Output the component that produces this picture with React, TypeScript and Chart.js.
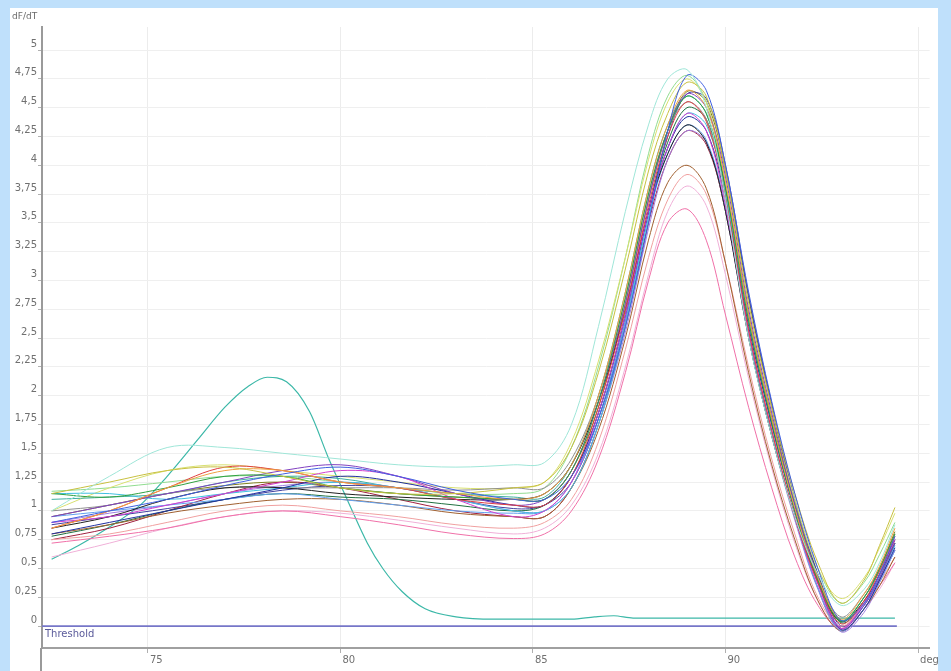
import React, { useEffect, useRef } from 'react';
import { Chart, registerables } from 'chart.js';
Chart.register(...registerables);

// x positions (deg)
const FLAT_X = [72.5, 74, 75.5, 77, 78.5, 80, 81.5, 83, 84.5];
const PEAK_X = [85.3, 86, 86.7, 87.4, 88, 88.5, 89, 89.5, 90, 90.6, 91.2, 91.8, 92.4, 93, 93.6, 94, 94.4];
const CURVE_X = [...FLAT_X, ...PEAK_X];

// dF/dT curves (9 flat-region values + 17 peak-region values)
const C01 = [1.0, 1.3, 1.55, 1.55, 1.5, 1.45, 1.4, 1.38, 1.4, 1.42, 1.75, 2.6, 3.6, 4.35, 4.75, 4.83, 4.5, 3.7, 2.5, 1.65, 0.95, 0.45, 0.18, 0.32, 0.55, 0.88];
const C02 = [0.9, 1.0, 1.1, 1.22, 1.32, 1.38, 1.3, 1.18, 1.1, 1.1, 1.3, 1.8, 2.6, 3.5, 4.3, 4.78, 4.65, 4.0, 2.9, 1.95, 1.15, 0.5, 0.05, 0.2, 0.45, 0.78];
const C03 = [1.15, 1.25, 1.35, 1.38, 1.3, 1.2, 1.15, 1.15, 1.2, 1.25, 1.55, 2.2, 3.1, 3.95, 4.45, 4.72, 4.6, 3.95, 2.8, 1.9, 1.15, 0.55, 0.2, 0.4, 0.7, 1.03];
const C04 = [0.85, 1.0, 1.2, 1.35, 1.35, 1.25, 1.2, 1.15, 1.1, 1.15, 1.4, 2.0, 2.9, 3.8, 4.35, 4.65, 4.5, 3.85, 2.7, 1.8, 1.02, 0.42, 0.06, 0.28, 0.52, 0.85];
const C05 = [1.15, 1.12, 1.2, 1.3, 1.3, 1.2, 1.15, 1.12, 1.1, 1.1, 1.35, 1.95, 2.85, 3.75, 4.3, 4.6, 4.45, 3.8, 2.65, 1.77, 1.0, 0.4, 0.04, 0.25, 0.5, 0.8];
const C06 = [0.85, 1.0, 1.2, 1.38, 1.35, 1.25, 1.2, 1.1, 1.05, 1.05, 1.3, 1.9, 2.75, 3.65, 4.25, 4.55, 4.38, 3.72, 2.57, 1.7, 0.95, 0.38, 0.02, 0.22, 0.48, 0.78];
const C07 = [0.9, 0.95, 1.05, 1.15, 1.25, 1.35, 1.3, 1.1, 0.95, 1.0, 1.25, 1.85, 2.7, 3.6, 4.15, 4.45, 4.3, 3.65, 2.55, 1.7, 0.95, 0.36, -0.02, 0.2, 0.45, 0.75];
const C08 = [0.95, 1.05, 1.15, 1.25, 1.35, 1.4, 1.3, 1.15, 1.05, 1.1, 1.35, 1.95, 2.8, 3.7, 4.3, 4.62, 4.5, 3.9, 2.75, 1.85, 1.05, 0.42, -0.02, 0.18, 0.42, 0.72];
const C09 = [0.8, 0.9, 1.0, 1.1, 1.2, 1.3, 1.25, 1.15, 1.05, 1.05, 1.3, 1.85, 2.7, 3.6, 4.15, 4.42, 4.3, 3.7, 2.6, 1.75, 1.0, 0.38, -0.03, 0.15, 0.4, 0.68];
const C10 = [0.85, 0.95, 1.1, 1.2, 1.2, 1.15, 1.12, 1.1, 1.1, 1.15, 1.4, 1.95, 2.75, 3.6, 4.1, 4.35, 4.2, 3.6, 2.5, 1.65, 0.95, 0.38, 0.04, 0.22, 0.45, 0.75];
const C11 = [1.15, 1.15, 1.1, 1.15, 1.2, 1.25, 1.2, 1.1, 1.0, 1.0, 1.2, 1.75, 2.6, 3.55, 4.15, 4.45, 4.35, 3.75, 2.65, 1.75, 1.0, 0.38, -0.02, 0.18, 0.42, 0.7];
const C12 = [0.95, 1.0, 1.05, 1.1, 1.15, 1.1, 1.05, 1.0, 0.98, 1.0, 1.25, 1.8, 2.65, 3.55, 4.1, 4.35, 4.22, 3.62, 2.53, 1.67, 0.95, 0.33, -0.04, 0.15, 0.38, 0.66];
const C13 = [0.8, 0.88, 0.98, 1.05, 1.1, 1.1, 1.05, 0.98, 0.95, 0.95, 1.2, 1.7, 2.5, 3.35, 3.85, 4.0, 3.8, 3.15, 2.2, 1.4, 0.75, 0.22, -0.04, 0.15, 0.35, 0.6];
const C14 = [0.72, 0.78, 0.85, 0.95, 1.0, 0.95, 0.88, 0.8, 0.76, 0.8, 1.0, 1.45, 2.2, 3.0, 3.5, 3.62, 3.35, 2.7, 1.9, 1.2, 0.6, 0.18, -0.02, 0.2, 0.35, 0.55];
const C15 = [0.75, 0.8, 0.9, 1.0, 1.05, 1.0, 0.95, 0.88, 0.85, 0.9, 1.1, 1.6, 2.4, 3.2, 3.7, 3.92, 3.75, 3.15, 2.25, 1.45, 0.8, 0.25, 0.0, 0.2, 0.38, 0.6];
const C16 = [1.0, 1.05, 1.15, 1.2, 1.2, 1.2, 1.2, 1.18, 1.2, 1.2, 1.45, 2.0, 2.85, 3.75, 4.3, 4.55, 4.4, 3.75, 2.65, 1.75, 1.0, 0.42, 0.08, 0.28, 0.5, 0.8];
const C17 = [0.78, 0.88, 1.0, 1.1, 1.15, 1.12, 1.1, 1.05, 1.0, 1.05, 1.3, 1.85, 2.7, 3.6, 4.2, 4.5, 4.4, 3.8, 2.7, 1.8, 1.05, 0.42, 0.03, 0.2, 0.45, 0.72];
const C18 = [0.9, 0.98, 1.05, 1.15, 1.22, 1.25, 1.2, 1.1, 1.0, 1.0, 1.2, 1.75, 2.55, 3.45, 4.05, 4.3, 4.2, 3.6, 2.5, 1.65, 0.92, 0.32, -0.05, 0.12, 0.38, 0.66];
const C19 = [0.6, 0.72, 0.85, 0.95, 1.0, 0.98, 0.92, 0.85, 0.8, 0.85, 1.05, 1.5, 2.25, 3.05, 3.6, 3.82, 3.65, 3.05, 2.15, 1.37, 0.72, 0.22, -0.03, 0.15, 0.32, 0.55];
const C20 = [1.1, 1.12, 1.15, 1.25, 1.3, 1.28, 1.2, 1.15, 1.12, 1.12, 1.4, 2.0, 2.9, 3.8, 4.35, 4.6, 4.45, 3.8, 2.65, 1.77, 1.0, 0.4, 0.05, 0.25, 0.48, 0.75];
const C21 = [1.0, 1.2, 1.35, 1.4, 1.35, 1.3, 1.25, 1.2, 1.2, 1.25, 1.6, 2.3, 3.2, 4.05, 4.55, 4.75, 4.55, 3.85, 2.7, 1.83, 1.1, 0.5, 0.24, 0.42, 0.68, 0.98];
const C22 = [0.75, 0.85, 1.0, 1.15, 1.25, 1.2, 1.1, 1.0, 0.95, 0.95, 1.2, 1.75, 2.6, 3.5, 4.05, 4.3, 4.18, 3.6, 2.53, 1.67, 0.95, 0.33, -0.04, 0.15, 0.4, 0.66];
const C23 = [0.88, 0.95, 1.02, 1.1, 1.18, 1.22, 1.2, 1.1, 1.02, 1.05, 1.25, 1.8, 2.65, 3.6, 4.25, 4.62, 4.58, 4.0, 2.87, 1.93, 1.1, 0.45, 0.0, 0.18, 0.42, 0.72];
const C24 = [1.17, 1.2, 1.25, 1.3, 1.3, 1.25, 1.2, 1.15, 1.15, 1.2, 1.55, 2.25, 3.2, 4.1, 4.6, 4.78, 4.55, 3.8, 2.65, 1.8, 1.08, 0.5, 0.2, 0.38, 0.62, 0.9];
const C25 = [0.95, 1.05, 1.15, 1.22, 1.25, 1.2, 1.15, 1.12, 1.1, 1.1, 1.35, 1.9, 2.8, 3.7, 4.3, 4.64, 4.55, 3.95, 2.85, 1.9, 1.08, 0.45, 0.05, 0.25, 0.5, 0.82];

const CURVES = [C01, C02, C03, C04, C05, C06, C07, C08, C09, C10, C11, C12, C13, C14, C15, C16, C17, C18, C19, C20, C21, C22, C23, C24, C25];
const CURVE_COLORS = [
  '#9fe6d8', '#3f5fe0', '#c8c040', '#f0a040', '#30a040', '#e04040', '#d040d0', '#8040c0', '#2030a0',
  '#202020', '#40c0e0', '#60a0f0', '#a06030', '#f070a8', '#f0a0a0', '#909090', '#207040', '#a080e0',
  '#f0b0d8', '#40b0a0', '#d8e070', '#a02040', '#4040a0', '#90dc90', '#808020',
];

// outlier curve
const OUT_X = [72.5, 73.2, 74, 74.8, 75.5, 76.3, 77, 77.6, 78.1, 78.6, 79.2, 79.7, 80.2, 80.7, 81.1, 81.6, 82.2, 83, 84, 85, 86, 86.6, 87.1, 87.6, 88.5, 90, 92, 94.4];
const OUT_Y = [0.58, 0.7, 0.86, 1.05, 1.3, 1.62, 1.9, 2.08, 2.16, 2.12, 1.86, 1.45, 1.08, 0.72, 0.5, 0.3, 0.15, 0.08, 0.06, 0.06, 0.06, 0.08, 0.09, 0.07, 0.07, 0.07, 0.07, 0.07];

const THRESHOLD_X = [72.25, 94.45];
const THRESHOLD_Y = [0, 0];

const X_TICK_LABELS: Record<number, string> = { 75: '75', 80: '80', 85: '85', 90: '90', 95: 'deg' };

const extras = {
  id: 'extras',
  afterDraw(chart: any) {
    const ctx = chart.ctx;
    const a = chart.chartArea;
    const ys = chart.scales.y;
    ctx.save();
    ctx.strokeStyle = '#9a9a9a';
    ctx.lineWidth = 2;
    ctx.beginPath();
    ctx.moveTo(a.left - 1, a.bottom);
    ctx.lineTo(a.left - 1, chart.height);
    ctx.stroke();
    ctx.font = '9px "DejaVu Sans"';
    ctx.fillStyle = '#6a6a6a';
    ctx.textBaseline = 'top';
    ctx.textAlign = 'left';
    ctx.fillText('dF/dT', 2, 4);
    ctx.font = '10px "DejaVu Sans"';
    ctx.fillStyle = '#5a5a9a';
    ctx.fillText('Threshold', a.left + 3, ys.getPixelForValue(0) + 3);
    ctx.restore();
  },
};

export default function App() {
  const ref = useRef<HTMLCanvasElement>(null);
  useEffect(() => {
    if (!ref.current) return;
    const datasets: any[] = [];
    CURVES.forEach((vals, i) => {
      datasets.push({
        data: CURVE_X.map((x, j) => ({ x, y: vals[j] })),
        borderColor: CURVE_COLORS[i],
        borderWidth: 1,
        pointRadius: 0,
        fill: false,
        tension: 0.35,
      });
    });
    datasets.push({
      data: OUT_X.map((x, j) => ({ x, y: OUT_Y[j] })),
      borderColor: '#3cb8a8',
      borderWidth: 1.2,
      pointRadius: 0,
      fill: false,
      cubicInterpolationMode: 'monotone',
    });
    datasets.push({
      data: THRESHOLD_X.map((x, j) => ({ x, y: THRESHOLD_Y[j] })),
      borderColor: '#7676c8',
      borderWidth: 1.6,
      pointRadius: 0,
      fill: false,
    });
    const tickFont = { family: '"DejaVu Sans"', size: 10 };
    const chart = new Chart(ref.current, {
      type: 'line',
      data: { datasets },
      options: {
        animation: false,
        responsive: false,
        devicePixelRatio: 1,
        layout: { padding: { top: 19, right: 8, left: 0, bottom: 0 } },
        plugins: { legend: { display: false }, tooltip: { enabled: false } },
        scales: {
          x: {
            type: 'linear',
            min: 72.25,
            max: 95.3,
            afterFit: (s: any) => { s.height = 23; },
            border: { color: '#a0a0a0', width: 2 },
            grid: { color: '#ececec', tickColor: '#b0b0b0', tickLength: 5 },
            ticks: {
              stepSize: 5,
              includeBounds: false,
              autoSkip: false,
              maxRotation: 0,
              align: 'start',
              labelOffset: 2,
              padding: 1,
              color: '#707070',
              font: tickFont,
              callback: (v: any) => X_TICK_LABELS[v] ?? '',
            },
          },
          y: {
            type: 'linear',
            min: -0.19,
            max: 5.2,
            afterFit: (s: any) => { s.width = 32; },
            border: { color: '#9a9a9a', width: 2 },
            grid: { color: '#efefef', tickColor: '#b0b0b0', tickLength: 4 },
            ticks: {
              stepSize: 0.25,
              includeBounds: false,
              autoSkip: false,
              labelOffset: -6,
              padding: 1,
              color: '#707070',
              font: tickFont,
              callback: (v: any) => String(v).replace('.', ','),
            },
          },
        },
      } as any,
      plugins: [extras],
    });
    return () => chart.destroy();
  }, []);
  return (
    <div style={{ position: 'fixed', left: 0, top: 0, width: 951, height: 671, background: '#bfe0fb', overflow: 'hidden' }}>
      <div style={{ position: 'absolute', left: 10, top: 8, width: 928, height: 663, background: '#ffffff' }}>
        <canvas ref={ref} width={928} height={663} style={{ display: 'block' }} />
      </div>
    </div>
  );
}
